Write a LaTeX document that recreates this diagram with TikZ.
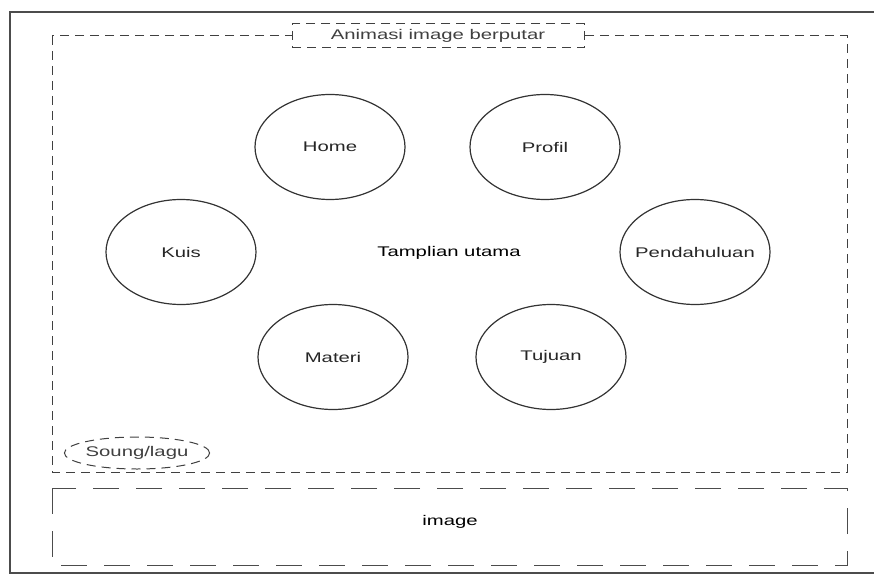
\documentclass[tikz,border=0pt]{standalone}
\usepackage{fontspec}
\setmainfont{Liberation Sans}[FakeStretch=1.45]
\usetikzlibrary{shapes.geometric}

\tikzset{
    menu/.style={draw, line width=1.2pt, black!80, ellipse, minimum width=150pt, minimum height=105pt,
        label={[text=black!85]center:#1}},
    dashbox/.style={draw, black!75, line width=1pt, dash pattern=on 9pt off 6pt},
    longdash/.style={draw, black!70, line width=1pt, dash pattern=on 26pt off 17pt}
}

\begin{document}
\begin{tikzpicture}[x=1pt, y=-1pt, font=\fontsize{14}{16}\selectfont]
    \useasboundingbox (0,0) rectangle (874,577);

    % Outer frame
    \draw[line width=2pt, black!70] (876,12) -- (10,12) -- (10,573) -- (876,573);

    % Main screen area
    \draw[dashbox] (52,36) rectangle (847,472);

    % Title box
    \node[dashbox, fill=white, minimum width=292pt, minimum height=24pt, inner sep=0pt]
        (judul) at (438,36) {Animasi image berputar};

    % Menu buttons
    \node[menu=Home] (home) at (330,147) {};
    \node[menu=Profil] (profil) at (545,147) {};
    \node[menu=Kuis] (kuis) at (181,252) {};
    \node[menu=Pendahuluan] (pendahuluan) at (695,252) {};
    \node[menu=Materi] (materi) at (333,357) {};
    \node[menu=Tujuan] (tujuan) at (551,357) {};

    % Centre label
    \node (utama) at (449,253) {Tamplian utama};

    % Song
    \node[dashbox, ellipse, fill=white, minimum width=132pt, minimum height=32pt, inner sep=0pt]
        (lagu) at (137,453) {Soung/lagu};

    % Image strip
    \draw[longdash] (52,488) rectangle (847,565);
    \node (image) at (450,522) {image};
\end{tikzpicture}
\end{document}
